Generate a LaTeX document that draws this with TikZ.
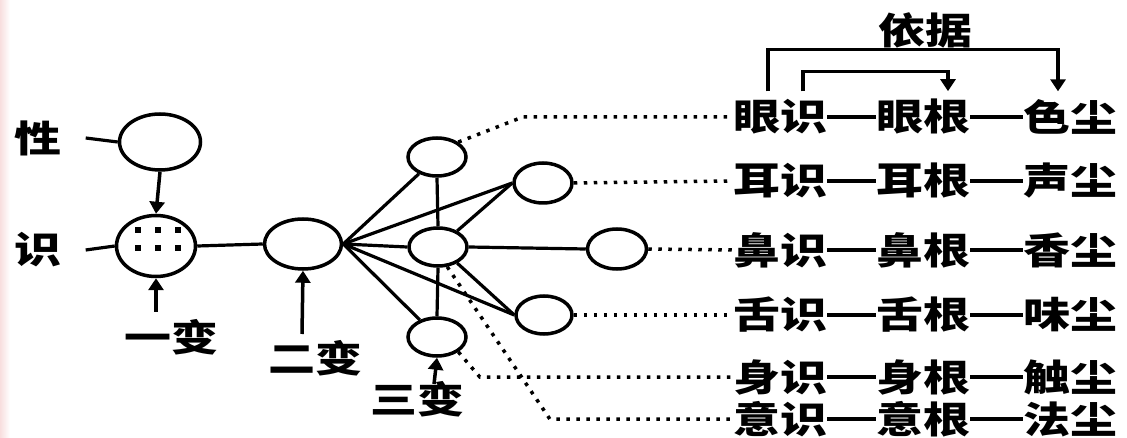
\documentclass[tikz,border=0pt]{standalone}
\usepackage{fontspec}
\newfontfamily\cjk[FakeStretch=1.27]{Noto Sans CJK SC}
\usetikzlibrary{shapes.geometric,arrows.meta,calc}
\definecolor{pinkish}{RGB}{248,222,222}
\begin{document}
\begin{tikzpicture}[x=1pt,y=-1pt,
  ring/.style={draw,ellipse,line width=3.5pt,inner sep=0pt},
  lbl/.style={font=\cjk\bfseries\fontsize{37}{40}\selectfont,inner sep=0pt},
  ln/.style={line width=3.2pt},
  dotl/.style={line width=3.5pt,dash pattern=on 3.5pt off 6.5pt},
  arr/.style={line width=3.5pt,-{Triangle[length=12pt,width=15pt]}}]
\useasboundingbox (0,0) rectangle (1127,438);
\fill[left color=pinkish,right color=white] (0,0) rectangle (10,438);
% circles
\node[ring,minimum width=81pt,minimum height=56pt] (X) at (160,142) {};
\node[ring,minimum width=79pt,minimum height=61pt] (S) at (156,246) {};
\node[ring,minimum width=77pt,minimum height=50pt] (T) at (303,244) {};
\node[ring,minimum width=58pt,minimum height=38pt] (A) at (437,157) {};
\node[ring,minimum width=58pt,minimum height=40pt] (B) at (543,183) {};
\node[ring,minimum width=58pt,minimum height=38pt] (C) at (438,247) {};
\node[ring,minimum width=59pt,minimum height=40pt] (D) at (617,249) {};
\node[ring,minimum width=56pt,minimum height=38pt] (E) at (544,315) {};
\node[ring,minimum width=58pt,minimum height=38pt] (F) at (437,337) {};
% dots inside S
\foreach \dx in {-18,2,22}{\foreach \dy in {-16,2}{
  \fill ($(S.center)+(\dx,\dy)+(-3,-3)$) rectangle ++(6,6);}}
% labels
\node[lbl] (lx) at (38,138) {性};
\node[lbl] (ls) at (38,250) {识};
\node[lbl] (l1) at (171,337) {一变};
\node[lbl] (l2) at (315,358) {二变};
\node[lbl] (l3) at (417,399) {三变};
\node[lbl] (yj) at (925,30) {依据};
% rows
\foreach \n/\a/\b/\c/\y in {1/眼识/眼根/色尘/117, 2/耳识/耳根/声尘/181, 3/鼻识/鼻根/香尘/250,
  4/舌识/舌根/味尘/315, 5/身识/身根/触尘/377, 6/意识/意根/法尘/419}{
  \node[lbl] (r\n a) at (780,\y) {\a};
  \node[lbl] (r\n b) at (923,\y) {\b};
  \node[lbl] (r\n c) at (1070,\y) {\c};
  \draw[ln] (r\n a.east) -- (r\n b.west);
  \draw[ln] (r\n b.east) -- (r\n c.west);
}
% left connectors
\draw[ln] ([xshift=24pt]lx.east) -- (X.west);
\draw[ln] ([xshift=24pt]ls.east) -- (S.west);
\draw[arr] (X.south) -- (S.north);
\draw[ln] (S.east) -- (T.west);
\coordinate (a1) at (156,312);
\draw[arr] (a1) -- (S.south);
\coordinate (a2) at (302,334);
\draw[arr] (a2) -- (T.south);
\coordinate (a3) at (434,384);
\draw[arr] (a3) -- (F.south);
% fan
\draw[ln] (T.east) -- (A);
\draw[ln] (T.east) -- (B.west);
\draw[ln] (T.east) -- (C.west);
\draw[ln] (C.east) -- (D.west);
\draw[ln] (T.east) -- (E.west);
\draw[ln] (T.east) -- (F);
\draw[ln] (C.40) -- (B.west);
\draw[ln] (C.-40) -- (E.west);
\draw[ln] (A.south) -- (C.north);
\draw[ln] (C.south) -- (F.north);
% dotted
\draw[dotl] (A.35) -- ($(r1a.west)+(-210,0)$) -- (r1a.west);
\draw[dotl] (B.east) -- (r2a.west);
\draw[dotl] (D.east) -- (r3a.west);
\draw[dotl] (E.east) -- (r4a.west);
\draw[dotl] (F.-35) -- ($(r5a.west)+(-253,0)$) -- (r5a.west);
\draw[dotl] (C.-65) -- ($(r6a.west)+(-183,0)$) -- (r6a.west);
% brackets
\draw[arr] ([xshift=-12pt,yshift=8pt]r1a.north) -- ++(0,-42) -| ([xshift=-12pt,yshift=8pt]r1c.north);
\draw[arr] ([xshift=23pt,yshift=8pt]r1a.north) -- ++(0,-20) -| ([xshift=25pt,yshift=8pt]r1b.north);
\end{tikzpicture}
\end{document}
